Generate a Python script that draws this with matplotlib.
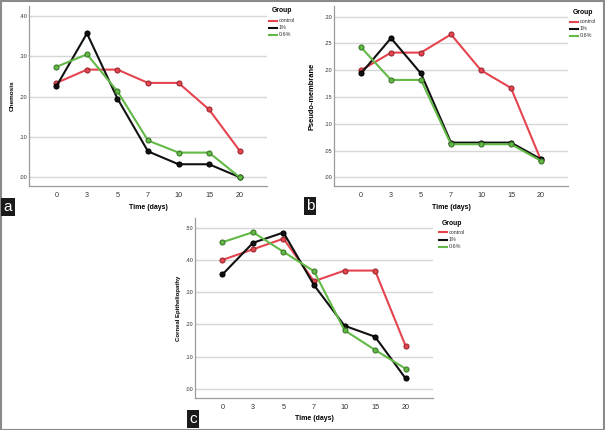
import matplotlib
matplotlib.use('Agg')
import matplotlib.pyplot as plt
from matplotlib.patches import Rectangle
from matplotlib.lines import Line2D

plt.rcParams['font.family'] = ['Liberation Sans', 'DejaVu Sans']

# ---------------- data ----------------
days = ['0', '3', '5', '7', '10', '15', '20']
groups = ['control', '1%', '0.6%']

chemosis_control = [0.234, 0.267, 0.267, 0.234, 0.234, 0.168, 0.066]
chemosis_1 = [0.226, 0.357, 0.195, 0.064, 0.032, 0.032, 0.0]
chemosis_06 = [0.274, 0.305, 0.213, 0.091, 0.061, 0.061, 0.0]

pseudo_control = [0.200, 0.233, 0.233, 0.267, 0.200, 0.167, 0.032]
pseudo_1 = [0.194, 0.260, 0.194, 0.065, 0.065, 0.065, 0.034]
pseudo_06 = [0.243, 0.182, 0.182, 0.062, 0.062, 0.062, 0.031]

corneal_control = [0.400, 0.433, 0.466, 0.334, 0.367, 0.367, 0.134]
corneal_1 = [0.355, 0.453, 0.485, 0.322, 0.196, 0.162, 0.033]
corneal_06 = [0.455, 0.486, 0.425, 0.365, 0.182, 0.121, 0.063]

chemosis_ticks = [0.0, 0.1, 0.2, 0.3, 0.4]
pseudo_ticks = [0.0, 0.05, 0.10, 0.15, 0.20, 0.25, 0.30]
corneal_ticks = [0.0, 0.1, 0.2, 0.3, 0.4, 0.5]

colors = ['#e5444f', '#111111', '#62b946']
edges = ['#9c2a32', '#000000', '#3d7a2b']

W, H = 605, 430
fig = plt.figure(figsize=(W / 100, H / 100), dpi=100)


def px_axes(left, top, right, bottom):
    return fig.add_axes([left / W, 1 - bottom / H, (right - left) / W, (bottom - top) / H])


def draw_panel(ax, series, ticks, ylim, ylabel, ysize):
    x = list(range(len(days)))
    for vals, c, ec in zip(series, colors, edges):
        ax.plot(x, vals, color=c, lw=1.5, marker='o', ms=3.6,
                mfc=c, mec=ec, mew=0.8, zorder=3)
    ax.set_xlim(-0.9, 6.9)
    ax.set_ylim(*ylim)
    ax.set_xticks(x)
    ax.set_xticklabels(days, fontsize=5.2, color='#333333')
    ax.set_yticks(ticks)
    ax.set_yticklabels([f'{t:.2f}'.lstrip('0') for t in ticks], fontsize=4, color='#333333')
    ax.tick_params(length=0)
    ax.tick_params(axis='x', pad=4)
    ax.tick_params(axis='y', pad=1.5)
    for t in ticks:
        ax.axhline(t, color='#d6d6d6', lw=1.0, zorder=1)
    for s in ['top', 'right']:
        ax.spines[s].set_visible(False)
    for s in ['left', 'bottom']:
        ax.spines[s].set_color('#9a9a9a')
        ax.spines[s].set_linewidth(0.9)
    ax.set_xlabel('Time (days)', fontsize=5, fontweight='bold')
    ax.xaxis.set_label_coords(0.5, -0.1)
    ax.set_ylabel(ylabel, fontsize=ysize, fontweight='bold')


def draw_legend(x, y):
    fig.text(x / W, 1 - y / H, 'Group', fontsize=4.9, fontweight='bold', va='center')
    for i, (g, c) in enumerate(zip(groups, colors)):
        yy = 1 - (y + 9.5 + 7 * i) / H
        fig.add_artist(Line2D([(x - 3) / W, (x + 5) / W], [yy, yy], color=c, lw=1.5))
        fig.text((x + 7) / W, yy, g, fontsize=3.9, va='center', color='#333333')


def panel_tag(x, y, letter):
    fig.text(x / W, 1 - y / H, letter, fontsize=11, color='white', ha='center', va='center',
             bbox=dict(boxstyle='square,pad=0.15', fc='#1a1a1a', ec='none'))


ax_a = px_axes(29, 6, 267, 186)
draw_panel(ax_a, [chemosis_control, chemosis_1, chemosis_06], chemosis_ticks, (-0.022, 0.425),
           'Chemosis', 4.6)
ax_a.yaxis.set_label_coords(-0.059, 0.5)
draw_legend(272, 11)
panel_tag(8, 207, 'a')

ax_b = px_axes(334, 6, 568, 186)
draw_panel(ax_b, [pseudo_control, pseudo_1, pseudo_06], pseudo_ticks, (-0.016, 0.32),
           'Pseudo-membrane', 5.4)
ax_b.yaxis.set_label_coords(-0.081, 0.5)
draw_legend(573, 12)
panel_tag(310, 206, 'b')

ax_c = px_axes(195, 218, 433, 398)
draw_panel(ax_c, [corneal_control, corneal_1, corneal_06], corneal_ticks, (-0.028, 0.53),
           'Corneal Epitheliopathy', 4.3)
ax_c.yaxis.set_label_coords(-0.059, 0.5)
ax_c.xaxis.set_label_coords(0.5, -0.094)
draw_legend(442, 223)
panel_tag(193, 419, 'c')

# outer frame
fig.add_artist(Rectangle((0.5 / W, 0.5 / H), 1 - 1.5 / W, 1 - 1.5 / H, transform=fig.transFigure,
                         fill=False, ec='#8a8a8a', lw=1.5))

fig.savefig('out.png', dpi=100)
